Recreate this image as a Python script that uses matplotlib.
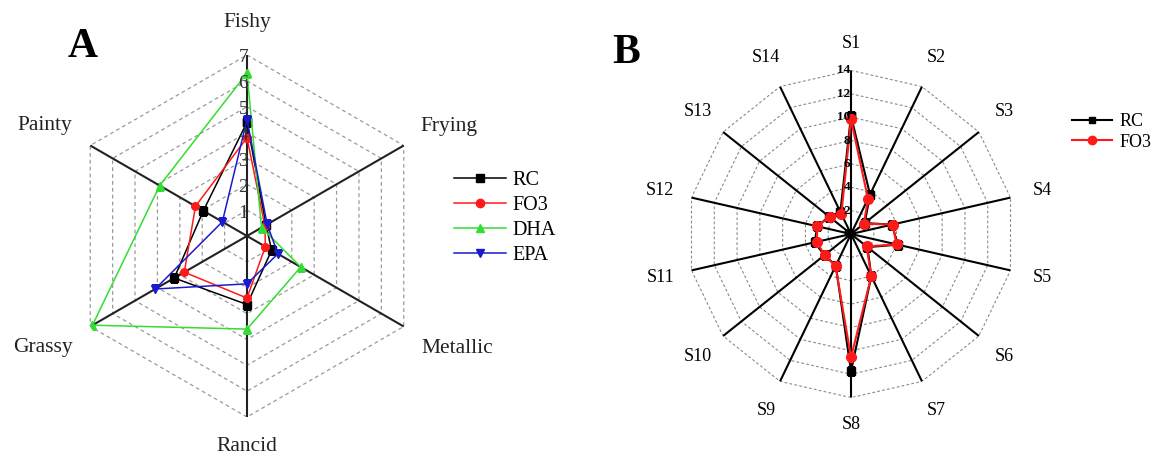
import numpy as np
import matplotlib
matplotlib.use('Agg')
import matplotlib.pyplot as plt
from matplotlib.transforms import offset_copy
from matplotlib.lines import Line2D

plt.rcParams['font.family'] = ['Liberation Serif', 'DejaVu Serif']

# ---------------- data ----------------
attrs_A = ['Fishy', 'Frying', 'Metallic', 'Rancid', 'Grassy', 'Painty']
rc_A = [4.4, 0.85, 1.1, 2.65, 3.25, 1.95]
fo3_A = [3.8, 0.8, 0.82, 2.4, 2.8, 2.3]
dha_A = [6.3, 0.65, 2.4, 3.6, 6.9, 3.9]
epa_A = [4.5, 0.9, 1.38, 1.85, 4.1, 1.1]
ticks_A = [1, 2, 3, 4, 5, 6, 7]

labels_B = ['S1', 'S2', 'S3', 'S4', 'S5', 'S6', 'S7',
            'S8', 'S9', 'S10', 'S11', 'S12', 'S13', 'S14']
rc_B = [10.1, 3.75, 1.5, 3.6, 4.1, 1.8, 4.0, 11.75, 3.0, 2.9, 3.2, 2.95, 2.4, 2.1]
fo3_B = [9.8, 3.35, 1.4, 3.65, 4.0, 1.7, 4.0, 10.55, 3.05, 2.9, 3.0, 2.95, 2.35, 1.9]
ticks_B = [0, 2, 4, 6, 8, 10, 12, 14]

W, H = 1157, 459
fig = plt.figure(figsize=(W / 100, H / 100), dpi=100)


def make_ax(cx, cy, r):
    ax = fig.add_axes([(cx - r) / W, (H - cy - r) / H, 2 * r / W, 2 * r / H],
                      projection='polar')
    ax.set_theta_zero_location('N')
    ax.set_theta_direction(-1)
    ax.grid(False)
    ax.spines['polar'].set_visible(False)
    ax.set_xticks([])
    ax.set_yticks([])
    ax.patch.set_alpha(0)
    return ax


def close(v):
    return list(v) + [v[0]]


# ---------------- panel A ----------------
axA = make_ax(247, 236, 181)
n = len(attrs_A)
th = np.linspace(0, 2 * np.pi, n, endpoint=False)
thc = close(th)
rmaxA = ticks_A[-1]
axA.set_ylim(0, rmaxA)
for t in ticks_A:
    axA.plot(thc, [t] * (n + 1), color='#9a9a9a', lw=0.9, ls=(0, (3, 2.5)), zorder=1)
for a in th:
    axA.plot([a, a], [0, rmaxA], color='#222222', lw=1.5, zorder=2)

seriesA = [('RC', rc_A, 'black', 's'), ('FO3', fo3_A, '#ff1a1a', 'o'),
           ('DHA', dha_A, '#33dd33', '^'), ('EPA', epa_A, '#1a1acc', 'v')]
for name, vals, col, mk in seriesA:
    axA.plot(thc, close(vals), color=col, lw=1.1, marker=mk, ms=5.5,
             label=name, zorder=3)

trA = offset_copy(axA.transData, fig=fig, x=1, y=-3, units='dots')
for t in ticks_A:
    axA.text(0, t, str(t), transform=trA, ha='right', va='center',
             fontsize=14, color='#333333', zorder=4)

lab_pos_A = [(0, 8.26), (61.5, 8.9), (118.2, 9.23), (180, 8.15), (241.3, 9.0), (298.7, 8.9)]
for name, (deg, rr) in zip(attrs_A, lab_pos_A):
    axA.text(np.deg2rad(deg), rr, name, ha='center', va='center',
             fontsize=15.5, color='#222222', clip_on=False)

fig.text(83 / W, 1 - 47 / H, 'A', fontsize=30, fontweight='bold',
         ha='center', va='center')

handlesA = [Line2D([], [], color=c, marker=m, ms=6, lw=1.1) for _, _, c, m in seriesA]
fig.legend(handlesA, [s[0] for s in seriesA], loc='center left',
           bbox_to_anchor=(436 / W, 1 - 218 / H), frameon=False, fontsize=14.5,
           handlelength=2.6, handletextpad=0.3, labelspacing=0.28)

# ---------------- panel B ----------------
axB = make_ax(851, 234, 163.6)
m = len(labels_B)
thB = np.linspace(0, 2 * np.pi, m, endpoint=False)
thBc = close(thB)
rmaxB = ticks_B[-1]
axB.set_ylim(0, rmaxB)
for t in ticks_B[1:]:
    axB.plot(thBc, [t] * (m + 1), color='#8a8a8a', lw=0.8, ls=(0, (2.5, 2)), zorder=1)
for a in thB:
    axB.plot([a, a], [0, rmaxB], color='black', lw=1.5, zorder=2)

axB.plot(thBc, close(rc_B), color='black', lw=1.5, marker='s', ms=6,
         label='RC', zorder=3)
axB.plot(thBc, close(fo3_B), color='#ff1a1a', lw=1.5, marker='o', ms=7,
         label='FO3', zorder=4)

trB = offset_copy(axB.transData, fig=fig, x=-1, y=0, units='dots')
for t in ticks_B:
    axB.text(0, t, str(t), transform=trB, ha='right', va='center',
             fontsize=9.5, fontweight='bold', zorder=5)

for name, a in zip(labels_B, thB):
    rr = 16.3 if name in ('S1', 'S8') else 16.75
    axB.text(a, rr, name, ha='center', va='center', fontsize=13, clip_on=False)

fig.text(626 / W, 1 - 53 / H, 'B', fontsize=30, fontweight='bold',
         ha='center', va='center')

handlesB = [Line2D([], [], color='black', marker='s', ms=5, lw=1.5),
            Line2D([], [], color='#ff1a1a', marker='o', ms=6, lw=1.5)]
fig.legend(handlesB, ['RC', 'FO3'], loc='center left',
           bbox_to_anchor=(1056 / W, 1 - 132 / H), frameon=False, fontsize=13,
           handlelength=2.2, handletextpad=0.4, labelspacing=0.2)

fig.savefig('out.png', dpi=100)
